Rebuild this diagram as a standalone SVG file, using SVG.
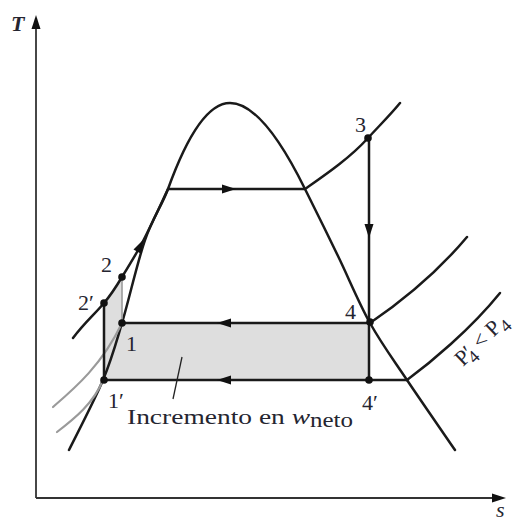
<svg xmlns="http://www.w3.org/2000/svg" width="525" height="522" viewBox="0 0 525 522">
<style>
.ln{fill:none;stroke:#1a1a1a;stroke-width:2.5;stroke-linejoin:round;stroke-linecap:round}
.gr{fill:none;stroke:#9a9a9a;stroke-width:2.2;stroke-linecap:round}
.ax{fill:none;stroke:#333;stroke-width:1.8}
.lb{font-family:"Liberation Serif",serif;font-size:22px;fill:#252530}
.dot{fill:#111}
.ah{fill:#111}
</style>
<rect width="525" height="522" fill="#fff"/>
<g id="fill">
<path d="M104,380 L104,303 C111,295 116,287 122,277 L122,323 L370,323 L370,380 Z" fill="#dedede"/>
</g>
<g id="axes">
<line class="ax" x1="36" y1="498" x2="36" y2="26"/>
<polygon class="ah" points="36,15 31.5,29 40.5,29"/>
<line class="ax" x1="36" y1="498" x2="494" y2="498"/>
<polygon class="ah" points="506,498 492,493.5 492,502.5"/>
<text class="lb" x="11" y="31" font-style="italic" font-weight="bold" font-size="22">T</text>
<text class="lb" x="496" y="517" font-style="italic">s</text>
</g>
<g id="dome">
<path class="ln" d="M69,450 C74.7,438.3 94.2,401.2 103,380 C111.8,358.8 115,346.3 122,323 C129,299.7 137.3,262.3 145,240 C152.7,217.7 162,205.4 168,189 Q199,103 230,103 Q262.6,103 305,189 C316,211 327.2,233.7 338,256 C348.8,278.3 358.5,302.3 370,323 C381.5,343.7 392.8,358.8 407,380 C421.2,401.2 447,438.3 455,450"/>
</g>
<g id="connectors">
<path class="gr" d="M53,407 C75,388 102,365 122,323"/>
<path class="gr" d="M57,432 C74,419 94,403 103,380"/>
<line x1="122" y1="277" x2="122" y2="323" stroke="#9a9a9a" stroke-width="1.6"/>
<path class="ln" d="M73,338 C85,322 95,314 104,303 C111,295 116,287 122,277 C130,264 136,254 141,245 C150,228 160,206 168,189 L305,189 C325,175 350,158 368,138 C380,125 392,113 400,103"/>
<path class="ln" d="M370,323 C395,306 435,275 467,237"/>
<path class="ln" d="M407,380 C430,363 470,330 500,293"/>
<line class="ln" x1="122" y1="323" x2="370" y2="323"/>
<line class="ln" x1="103" y1="380" x2="407" y2="380"/>
<line class="ln" x1="369" y1="138" x2="369" y2="380"/>
<line class="ln" x1="104" y1="303" x2="104" y2="380"/>
<line x1="182" y1="357" x2="173" y2="399" stroke="#222" stroke-width="1.3"/>
<polygon class="ah" points="236,189 222,184.5 222,193.5"/>
<polygon class="ah" points="217,323 231,318.5 231,327.5"/>
<polygon class="ah" points="217,380 231,375.5 231,384.5"/>
<polygon class="ah" points="369,238 364.5,224 373.5,224"/>
<polygon class="ah" points="143,240 141.5,254 133.5,249.5"/>
</g>
<g id="points">
<circle class="dot" cx="122" cy="277" r="3.8"/>
<circle class="dot" cx="104" cy="303" r="3.8"/>
<circle class="dot" cx="122" cy="323" r="3.8"/>
<circle class="dot" cx="104" cy="380" r="3.8"/>
<circle class="dot" cx="368" cy="138" r="3.8"/>
<circle class="dot" cx="370" cy="322" r="3.8"/>
<circle class="dot" cx="369" cy="380" r="3.8"/>
</g>
<g id="labels">
<text class="lb" x="101" y="272">2</text>
<text class="lb" x="78" y="310">2′</text>
<text class="lb" x="126" y="351">1</text>
<text class="lb" x="108" y="408">1′</text>
<text class="lb" x="355" y="132">3</text>
<text class="lb" x="345" y="319">4</text>
<text class="lb" x="362" y="410">4′</text>
<text class="lb" x="127" y="424" font-size="25" textLength="226" lengthAdjust="spacingAndGlyphs">Incremento en <tspan font-style="italic">w</tspan><tspan font-size="20" dy="3">neto</tspan></text>
<text class="lb" font-size="29" transform="translate(463,367) rotate(-44)">P′<tspan font-size="18" dx="-7" dy="6">4</tspan><tspan dy="-6"> &lt; P</tspan><tspan font-size="18" dy="6">4</tspan></text>
</g>
</svg>
